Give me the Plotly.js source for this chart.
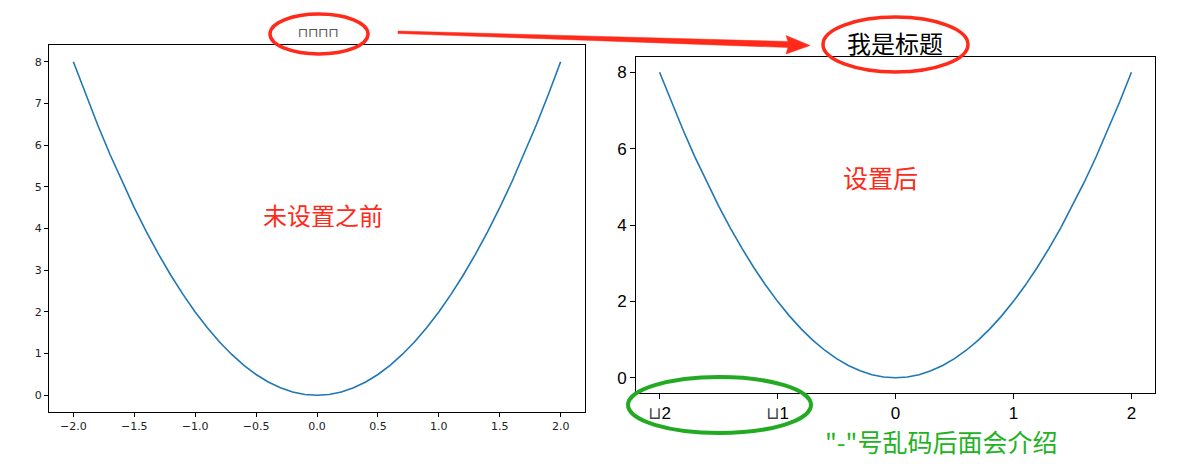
<!DOCTYPE html>
<html>
<head>
<meta charset="utf-8">
<script src="https://cdn.plot.ly/plotly-3.0.1.min.js"></script>
<style>html,body{margin:0;padding:0;background:#fff;}#chart{width:1186px;height:464px;}</style>
</head>
<body>
<div id="chart"></div>
<script>
// Data
const xValues = [-2.0,-1.9,-1.8,-1.7,-1.6,-1.5,-1.4,-1.3,-1.2,-1.1,-1.0,-0.9,-0.8,-0.7,-0.6,-0.5,-0.4,-0.3,-0.2,-0.1,0.0,0.1,0.2,0.3,0.4,0.5,0.6,0.7,0.8,0.9,1.0,1.1,1.2,1.3,1.4,1.5,1.6,1.7,1.8,1.9,2.0];
const yValues = [8.00,7.22,6.48,5.78,5.12,4.50,3.92,3.38,2.88,2.42,2.00,1.62,1.28,0.98,0.72,0.50,0.32,0.18,0.08,0.02,0.00,0.02,0.08,0.18,0.32,0.50,0.72,0.98,1.28,1.62,2.00,2.42,2.88,3.38,3.92,4.50,5.12,5.78,6.48,7.22,8.00];

const leftXTicks = [-2.0,-1.5,-1.0,-0.5,0.0,0.5,1.0,1.5,2.0];
const leftXLabels = ["\u22122.0","\u22121.5","\u22121.0","\u22120.5","0.0","0.5","1.0","1.5","2.0"];
const leftYTicks = [0,1,2,3,4,5,6,7,8];
const rightXTicks = [-2,-1,0,1,2];
const rightXLabels = ["<span style='color:#444'>\u2294</span>2","<span style='color:#444'>\u2294</span>1","0","1","2"];
const rightYTicks = [0,2,4,6,8];

const leftTitle = "\u2293\u2293\u2293\u2293";
const rightTitle = "我是标题";
const leftNote = "未设置之前";
const rightNote = "设置后";
const greenNote = '"-"号乱码后面会介绍';

const W = 1186, H = 464;
const px = v => v / W;
const py = v => 1 - v / H;

const lineStyle = {color: '#1f77b4', width: 1.6};

const traces = [
  {x: xValues, y: yValues, type: 'scatter', mode: 'lines', line: lineStyle, xaxis: 'x', yaxis: 'y', hoverinfo: 'skip'},
  {x: xValues, y: yValues, type: 'scatter', mode: 'lines', line: lineStyle, xaxis: 'x2', yaxis: 'y2', hoverinfo: 'skip'}
];

const axBase = {
  showgrid: false, zeroline: false, showline: true, mirror: true,
  linecolor: '#000', linewidth: 1, ticks: 'outside', tickcolor: '#000',
  fixedrange: true
};

const leftFont = {family: 'DejaVu Sans', size: 11, color: '#222'};
const rightFont = {family: 'Liberation Sans, DejaVu Sans', size: 17, color: '#000'};

const layout = {
  width: W, height: H,
  margin: {l: 0, r: 0, t: 0, b: 0},
  paper_bgcolor: '#fff', plot_bgcolor: '#fff',
  showlegend: false,
  xaxis: Object.assign({}, axBase, {domain: [px(49), px(585)], range: [-2.2, 2.2], tickvals: leftXTicks, ticktext: leftXLabels, tickfont: leftFont, ticklen: 4, anchor: 'y'}),
  yaxis: Object.assign({}, axBase, {domain: [py(412), py(45)], range: [-0.4, 8.4], tickvals: leftYTicks, tickfont: leftFont, ticklen: 4, anchor: 'x'}),
  xaxis2: Object.assign({}, axBase, {domain: [px(636), px(1155)], range: [-2.2, 2.2], tickvals: rightXTicks, ticktext: rightXLabels, tickfont: rightFont, ticklen: 5, anchor: 'y2'}),
  yaxis2: Object.assign({}, axBase, {domain: [py(393), py(57)], range: [-0.4, 8.4], tickvals: rightYTicks, tickfont: rightFont, ticklen: 5, anchor: 'x2'}),
  annotations: [
    {xref: 'paper', yref: 'paper', x: px(318), y: py(32), text: leftTitle, showarrow: false, font: {family: 'DejaVu Sans', size: 13, color: '#555'}, xanchor: 'center', yanchor: 'middle'},
    {xref: 'paper', yref: 'paper', x: px(895), y: py(42), text: rightTitle, showarrow: false, font: {family: 'Noto Sans CJK SC', size: 24, color: '#000'}, xanchor: 'center', yanchor: 'middle'},
    {xref: 'paper', yref: 'paper', x: px(323), y: py(214), text: leftNote, showarrow: false, font: {family: 'Noto Sans CJK SC', size: 24, color: '#ff2a1a'}, xanchor: 'center', yanchor: 'middle'},
    {xref: 'paper', yref: 'paper', x: px(880), y: py(177), text: rightNote, showarrow: false, font: {family: 'Noto Sans CJK SC', size: 25, color: '#ff2a1a'}, xanchor: 'center', yanchor: 'middle'},
    {xref: 'paper', yref: 'paper', x: px(941), y: py(441), text: greenNote, showarrow: false, font: {family: 'Noto Sans CJK SC', size: 25, color: '#22b222'}, xanchor: 'center', yanchor: 'middle'}
  ],
  shapes: [
    {type: 'circle', xref: 'paper', yref: 'paper', x0: px(270), x1: px(368), y0: py(54), y1: py(14), line: {color: '#ff2a1a', width: 3.5}},
    {type: 'circle', xref: 'paper', yref: 'paper', x0: px(823), x1: px(968), y0: py(72), y1: py(17), line: {color: '#ff2a1a', width: 3.5}},
    {type: 'circle', xref: 'paper', yref: 'paper', x0: px(628), x1: px(811), y0: py(433), y1: py(377), line: {color: '#22aa22', width: 4}},
    {type: 'path', xref: 'paper', yref: 'paper', fillcolor: '#ff2a1a', line: {color: '#ff2a1a', width: 0.5},
     path: 'M' + px(398) + ',' + py(31) + ' L' + px(788) + ',' + py(41.5) + ' L' + px(786) + ',' + py(35.5) +
           ' L' + px(810) + ',' + py(45.5) + ' L' + px(786) + ',' + py(54) + ' L' + px(788) + ',' + py(47.5) +
           ' L' + px(398) + ',' + py(33.5) + ' Z'}
  ]
};

Plotly.newPlot('chart', traces, layout, {displayModeBar: false, staticPlot: true});
</script>
</body>
</html>
